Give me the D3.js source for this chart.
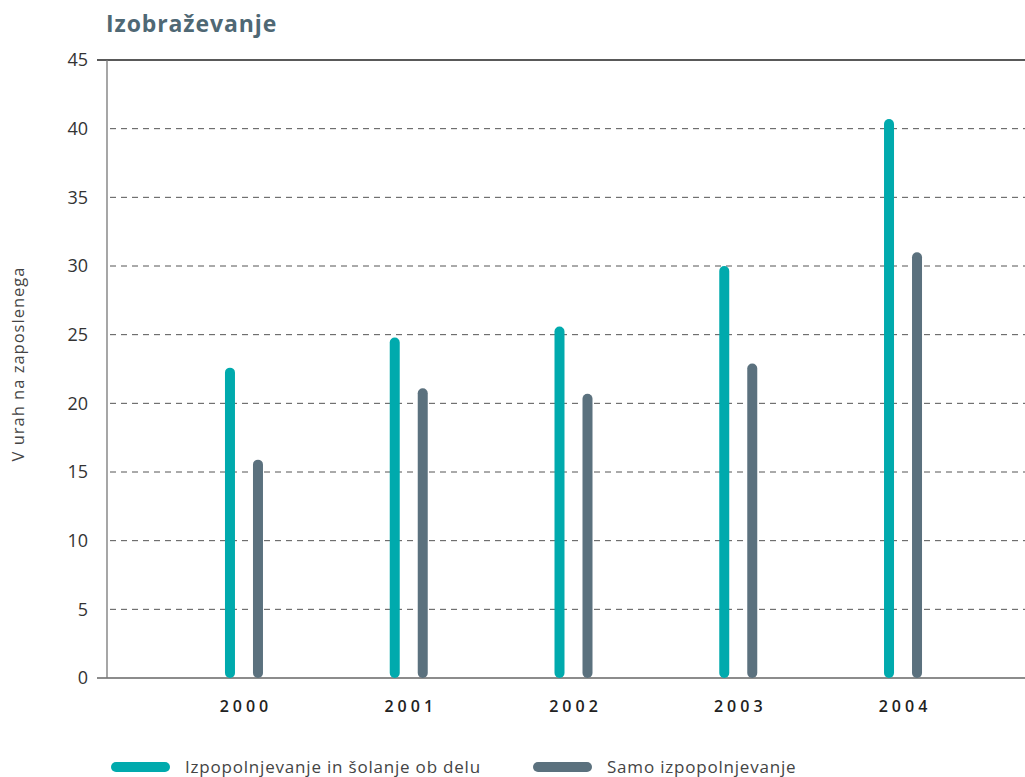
<!DOCTYPE html>
<html>
<head>
<meta charset="utf-8">
<script src="https://cdn.jsdelivr.net/npm/d3@7"></script>
<style>
  body { margin: 0; background: #fff; }
  svg { display: block; font-family: "Open Sans", sans-serif; }
</style>
</head>
<body>
<div id="chart"></div>
<script>
const years = ["2000", "2001", "2002", "2003", "2004"];
const seriesNames = ["Izpopolnjevanje in šolanje ob delu", "Samo izpopolnjevanje"];
const workAndSchool = [22.6, 24.8, 25.6, 30.0, 40.7];
const trainingOnly = [15.9, 21.1, 20.7, 22.9, 31.0];
const yTicks = [0, 5, 10, 15, 20, 25, 30, 35, 40, 45];

const colors = ["#00aaad", "#5b717e"];
const width = 1025, height = 777;
const barW = 10;

const svg = d3.select("#chart").append("svg")
  .attr("width", width)
  .attr("height", height);

const y = d3.scaleLinear().domain([0, 45]).range([678, 60]);
const x = d3.scaleBand().domain(years).range([161.6, 985.4]);
const axisX = 107;

// title
svg.append("text")
  .attr("x", 106)
  .attr("y", 32)
  .attr("fill", "#4f6874")
  .attr("font-size", 23)
  .attr("font-weight", 700)
  .attr("letter-spacing", 0.9)
  .text("Izobraževanje");

// gridlines
svg.append("g")
  .selectAll("line")
  .data(yTicks.filter(d => d > 0 && d < 45))
  .join("line")
  .attr("x1", axisX + 3)
  .attr("x2", width)
  .attr("y1", d => y(d))
  .attr("y2", d => y(d))
  .attr("stroke", "#555")
  .attr("stroke-width", 1)
  .attr("stroke-dasharray", "6,5");

// top line and baseline
svg.append("line")
  .attr("x1", 97).attr("x2", width)
  .attr("y1", y(45)).attr("y2", y(45))
  .attr("stroke", "#222").attr("stroke-width", 1.3);
svg.append("line")
  .attr("x1", 97).attr("x2", width)
  .attr("y1", y(0)).attr("y2", y(0))
  .attr("stroke", "#666").attr("stroke-width", 1.5);

// y axis line
svg.append("line")
  .attr("x1", axisX).attr("x2", axisX)
  .attr("y1", y(45)).attr("y2", y(0))
  .attr("stroke", "#777").attr("stroke-width", 1.3);

// y tick labels
svg.append("g")
  .selectAll("text")
  .data(yTicks)
  .join("text")
  .attr("x", 88)
  .attr("y", d => y(d))
  .attr("dy", "0.35em")
  .attr("text-anchor", "end")
  .attr("font-size", 18)
  .attr("fill", "#333")
  .text(d => d);

// y axis title
svg.append("text")
  .attr("transform", `translate(24,${364}) rotate(-90)`)
  .attr("text-anchor", "middle")
  .attr("font-size", 16.5)
  .attr("letter-spacing", 1)
  .attr("fill", "#444")
  .text("V urah na zaposlenega");

// year labels
svg.append("g")
  .selectAll("text")
  .data(years)
  .join("text")
  .attr("x", d => x(d) + x.bandwidth() / 2 + 2)
  .attr("y", 712)
  .attr("text-anchor", "middle")
  .attr("font-size", 16)
  .attr("font-weight", 600)
  .attr("letter-spacing", 4)
  .attr("fill", "#222")
  .text(d => d);

// bars as rounded lines
const series = [workAndSchool, trainingOnly];
const offsets = [-14, 14];
series.forEach((vals, si) => {
  svg.append("g")
    .selectAll("line")
    .data(vals)
    .join("line")
    .attr("x1", (d, i) => x(years[i]) + x.bandwidth() / 2 + offsets[si])
    .attr("x2", (d, i) => x(years[i]) + x.bandwidth() / 2 + offsets[si])
    .attr("y1", y(0) - barW / 2)
    .attr("y2", d => y(d) + barW / 2)
    .attr("stroke", colors[si])
    .attr("stroke-width", barW)
    .attr("stroke-linecap", "round");
});

// legend
const legendX = [116, 538];
seriesNames.forEach((name, i) => {
  svg.append("line")
    .attr("x1", legendX[i]).attr("x2", legendX[i] + 49)
    .attr("y1", 767).attr("y2", 767)
    .attr("stroke", colors[i])
    .attr("stroke-width", 10)
    .attr("stroke-linecap", "round");
  svg.append("text")
    .attr("x", legendX[i] + 69)
    .attr("y", 767)
    .attr("dy", "0.35em")
    .attr("font-size", 17)
    .attr("letter-spacing", 0.8)
    .attr("fill", "#444")
    .text(name);
});
</script>
</body>
</html>
